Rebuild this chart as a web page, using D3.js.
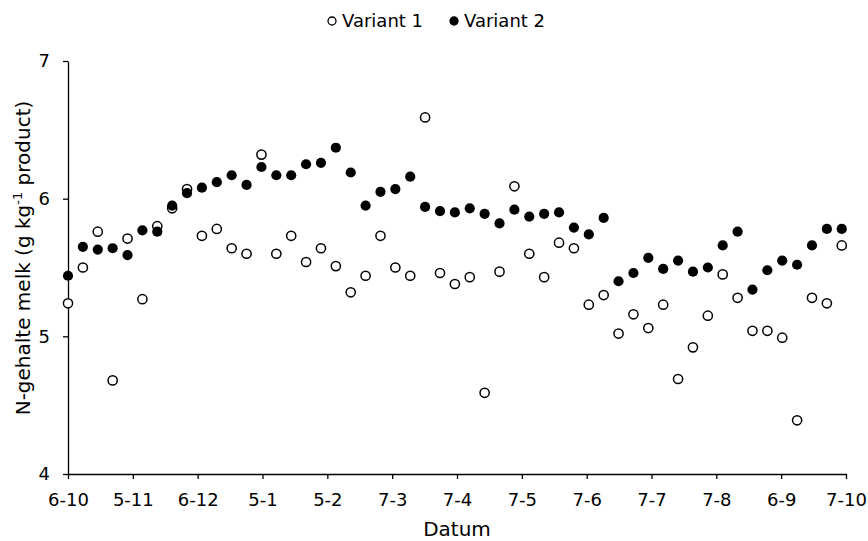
<!DOCTYPE html>
<html>
<head>
<meta charset="utf-8">
<script src="https://cdn.jsdelivr.net/npm/d3@7"></script>
<style>
  body { margin: 0; background: #fff; }
  svg { display: block; font-family: "DejaVu Sans", Verdana, sans-serif; }
</style>
</head>
<body>
<svg id="chart" width="868" height="541"></svg>
<script>
// weekly sampling dates
const dates = [
  '2014-10-06', '2014-10-13', '2014-10-20', '2014-10-27', '2014-11-03', '2014-11-10', '2014-11-17',
  '2014-11-24', '2014-12-01', '2014-12-08', '2014-12-15', '2014-12-22', '2014-12-29', '2015-01-05',
  '2015-01-12', '2015-01-19', '2015-01-26', '2015-02-02', '2015-02-09', '2015-02-16', '2015-02-23',
  '2015-03-02', '2015-03-09', '2015-03-16', '2015-03-23', '2015-03-30', '2015-04-06', '2015-04-13',
  '2015-04-20', '2015-04-27', '2015-05-04', '2015-05-11', '2015-05-18', '2015-05-25', '2015-06-01',
  '2015-06-08', '2015-06-15', '2015-06-22', '2015-06-29', '2015-07-06', '2015-07-13', '2015-07-20',
  '2015-07-27', '2015-08-03', '2015-08-10', '2015-08-17', '2015-08-24', '2015-08-31', '2015-09-07',
  '2015-09-14', '2015-09-21', '2015-09-28', '2015-10-05'
];

const variant1 = [
  5.24, 5.50, 5.76, 4.68, 5.71, 5.27, 5.80, 5.93, 6.07, 5.73, 5.78, 5.64, 5.60,
  6.32, 5.60, 5.73, 5.54, 5.64, 5.51, 5.32, 5.44, 5.73, 5.50, 5.44, 6.59, 5.46, 5.38,
  5.43, 4.59, 5.47, 6.09, 5.60, 5.43, 5.68, 5.64, 5.23, 5.30, 5.02, 5.16, 5.06,
  5.23, 4.69, 4.92, 5.15, 5.45, 5.28, 5.04, 5.04, 4.99, 4.39, 5.28, 5.24, 5.66
];

const variant2 = [
  5.44, 5.65, 5.63, 5.64, 5.59, 5.77, 5.76, 5.95, 6.04, 6.08, 6.12, 6.17, 6.10,
  6.23, 6.17, 6.17, 6.25, 6.26, 6.37, 6.19, 5.95, 6.05, 6.07, 6.16, 5.94, 5.91, 5.90,
  5.93, 5.89, 5.82, 5.92, 5.87, 5.89, 5.90, 5.79, 5.74, 5.86, 5.40, 5.46, 5.57,
  5.49, 5.55, 5.47, 5.50, 5.66, 5.76, 5.34, 5.48, 5.55, 5.52, 5.66, 5.78, 5.78
];

const tickLabels = ['6-10', '5-11', '6-12', '5-1', '5-2', '7-3', '7-4', '7-5', '7-6', '7-7', '7-8', '6-9', '7-10'];
const yTicks = [4, 5, 6, 7];

const svg = d3.select('#chart');
const margin = { top: 61, right: 22, bottom: 67, left: 68 };
const width = 868, height = 541;

const parse = d3.utcParse('%Y-%m-%d');
const start = parse('2014-10-06');
const end = parse('2015-10-07');
const dayMs = 864e5;

// axis ticks every 30.5 days from the start
const tickDates = tickLabels.map((d, i) => new Date(start.getTime() + i * 30.5 * dayMs));

const x = d3.scaleUtc()
  .domain([start, end])
  .range([margin.left, width - margin.right]);

const y = d3.scaleLinear()
  .domain([4, 7])
  .range([height - margin.bottom, margin.top]);

const xAxis = d3.axisBottom(x)
  .tickValues(tickDates)
  .tickFormat((d, i) => tickLabels[i])
  .tickSize(5)
  .tickSizeOuter(0);

const yAxis = d3.axisLeft(y)
  .tickValues(yTicks)
  .tickFormat(d3.format('d'))
  .tickSize(5)
  .tickSizeOuter(0);

const gx = svg.append('g')
  .attr('transform', `translate(0,${height - margin.bottom})`)
  .call(xAxis);

gx.selectAll('text')
  .attr('y', 32)
  .attr('dy', null);

const gy = svg.append('g')
  .attr('transform', `translate(${margin.left},0)`)
  .call(yAxis);

gy.selectAll('text')
  .attr('x', -18);

svg.selectAll('.tick text')
  .attr('fill', '#000')
  .style('font-size', '18px')
  .style('font-family', '"DejaVu Sans", Verdana, sans-serif');

svg.selectAll('.domain, .tick line')
  .attr('stroke', '#000')
  .attr('stroke-width', 1.3);

const rows1 = dates.map((d, i) => ({ date: parse(d), value: variant1[i] }));
const rows2 = dates.map((d, i) => ({ date: parse(d), value: variant2[i] }));

svg.append('g')
  .selectAll('circle')
  .data(rows1)
  .join('circle')
  .attr('cx', d => x(d.date))
  .attr('cy', d => y(d.value))
  .attr('r', 4.6)
  .attr('fill', '#fff')
  .attr('stroke', '#000')
  .attr('stroke-width', 1.5);

svg.append('g')
  .selectAll('circle')
  .data(rows2)
  .join('circle')
  .attr('cx', d => x(d.date))
  .attr('cy', d => y(d.value))
  .attr('r', 5.1)
  .attr('fill', '#000');

// axis titles
svg.append('text')
  .attr('x', (margin.left + width - margin.right) / 2)
  .attr('y', 536)
  .attr('text-anchor', 'middle')
  .style('font-size', '20px')
  .text('Datum');

const ytitle = svg.append('text')
  .attr('transform', `translate(30,258) rotate(-90)`)
  .attr('text-anchor', 'middle')
  .style('font-size', '20px');
ytitle.append('tspan').text('N-gehalte melk (g kg');
ytitle.append('tspan').attr('dy', -8).style('font-size', '13px').text('-1');
ytitle.append('tspan').attr('dy', 8).text(' product)');

// legend
const legend = [
  { name: 'Variant 1', fill: '#fff', x: 332 },
  { name: 'Variant 2', fill: '#000', x: 454 }
];

const lg = svg.append('g')
  .selectAll('g')
  .data(legend)
  .join('g')
  .attr('transform', d => `translate(${d.x},21)`);

lg.append('circle')
  .attr('r', 4)
  .attr('fill', d => d.fill)
  .attr('stroke', '#000')
  .attr('stroke-width', 1.3);

lg.append('text')
  .attr('x', 10)
  .attr('dy', '0.35em')
  .style('font-size', '18px')
  .text(d => d.name);
</script>
</body>
</html>
